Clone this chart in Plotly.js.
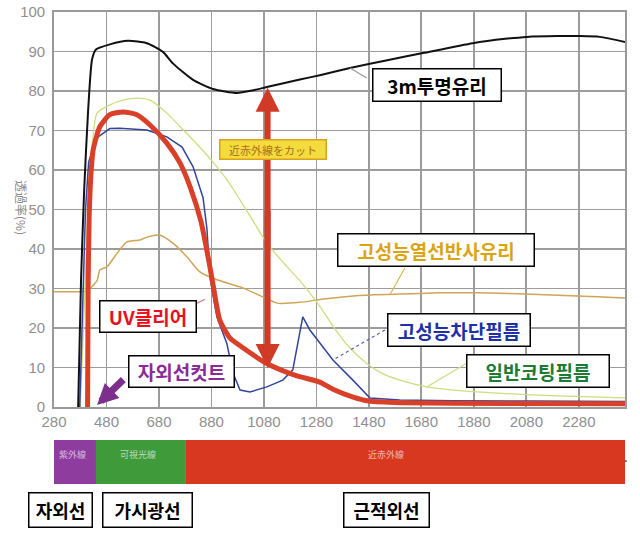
<!DOCTYPE html>
<html>
<head>
<meta charset="utf-8">
<script src="https://cdn.plot.ly/plotly-3.0.1.min.js"></script>
<style>
  body { margin: 0; background: #fff; }
  #plot { width: 640px; height: 533px; }
</style>
</head>
<body>
<div id="plot"></div>
<script>
// wavelength (nm) vs transmittance (%)
var clearX = [372, 383, 395, 410, 425, 440, 493, 562, 634, 695, 733, 810, 886, 977, 1040, 1091, 1217, 1293, 1408, 1550, 1686, 1876, 2000, 2082, 2200, 2280, 2360, 2456];
var clearY = [0, 32, 55, 75, 88, 90.5, 91.8, 92.7, 92.1, 89.9, 87, 82.8, 80.5, 79.5, 80.2, 81, 82.9, 84, 85.8, 87.8, 89.6, 92.1, 93.2, 93.7, 93.9, 93.9, 93.7, 92.4];

var uvX = [408, 410, 414, 420, 429, 455, 493, 543, 596, 646, 710, 760, 800, 840, 870, 886, 912, 950, 1000, 1091, 1200, 1293, 1343, 1420, 1480, 1600, 2000, 2456];
var uvY = [0, 30, 48, 58, 65, 71, 74, 74.7, 74, 71.4, 66.8, 61.8, 55.5, 47, 37, 31, 22, 17.5, 15, 11, 8, 6.3, 4.5, 2.5, 1.5, 1.1, 0.9, 0.8];

var filmX = [378, 390, 400, 412, 440, 493, 531, 634, 710, 768, 810, 848, 863, 874, 901, 939, 962, 989, 1027, 1091, 1152, 1190, 1228, 1255, 1293, 1343, 1419, 1484, 1598, 1800, 2100, 2456];
var filmY = [0, 30, 50, 62, 68, 70.5, 70.6, 70.1, 68.4, 65.8, 60.8, 53, 45, 33, 22.8, 16, 8.6, 4.3, 3.8, 5.1, 6.8, 9.4, 22.8, 19.5, 16.2, 11.9, 6.8, 2.3, 1.8, 1.6, 1.5, 1.4];

var coatX = [380, 395, 410, 425, 444, 493, 550, 596, 646, 710, 760, 810, 860, 901, 950, 989, 1040, 1091, 1179, 1217, 1293, 1343, 1400, 1472, 1530, 1598, 1701, 1850, 2000, 2200, 2456];
var coatY = [0, 25, 50, 66, 74.4, 76.5, 77.8, 78.2, 77.7, 74.4, 71, 67.6, 64, 60.8, 56.5, 52.4, 47, 41.5, 34.7, 32, 25.5, 20.5, 15.5, 11, 8.5, 6.8, 5.1, 4, 3.4, 2.8, 2.3];

var reflX = [280, 380, 406, 444, 455, 482, 520, 558, 608, 634, 684, 733, 787, 836, 901, 989, 1076, 1130, 1217, 1293, 1400, 1500, 1600, 1750, 1900, 2050, 2200, 2350, 2456];
var reflY = [29.2, 29.2, 29.4, 32, 34.7, 35.5, 38.9, 41.8, 42.3, 43, 43.5, 41.5, 38, 34.2, 32.2, 30.4, 27.9, 26.3, 26.5, 27.2, 28, 28.4, 28.6, 28.9, 28.9, 28.7, 28.3, 27.9, 27.6];

var xTicks = [280, 480, 680, 880, 1080, 1280, 1480, 1680, 1880, 2080, 2280];

// spectrum band under the chart
var bandStart = [280, 440, 780];
var bandEnd = [440, 780, 2456];
var bandText = ["紫外線", "可視光線", "近赤外線"];
var bandTextX = [352, 600, 1545];
var bandColor = ["#8e3d9e", "#3f9a3a", "#d8381f"];

var regionLabels = ["자외선", "가시광선", "근적외선"];
var regionX = [305, 636, 1547];
var regionW = [65, 91, 87];

var kfont = "Noto Sans CJK KR, sans-serif";

function line(x, y, color, width, shape) {
  return {
    x: x, y: y, type: "scatter", mode: "lines",
    line: { color: color, width: width, shape: shape || "spline", smoothing: 0.6 },
    hoverinfo: "skip", showlegend: false
  };
}

var data = [
  line(reflX, reflY, "#cfa556", 1.5),
  line(coatX, coatY, "#cfdc80", 1.3),
  line(filmX, filmY, "#34449c", 1.5, "linear"),
  line(clearX, clearY, "#111111", 2),
  line(uvX, uvY, "#d9402a", 5)
];

// boxed labels
function box(text, x, y, w, h, color, xref, yref, size) {
  return {
    text: "<b>" + text + "</b>", x: x, y: y, xref: xref || "x", yref: yref || "y",
    showarrow: false, width: w - 3, height: h - 3, borderpad: 0,
    bgcolor: "#ffffff", bordercolor: "#000000", borderwidth: 1.5,
    font: { family: kfont, size: size || 19, color: color },
    xanchor: "center", yanchor: "middle"
  };
}

function arrow(x, y, ax, ay, color, width, size) {
  return {
    x: x, y: y, ax: ax, ay: ay, xref: "x", yref: "y", axref: "x", ayref: "y",
    text: "", showarrow: true, arrowhead: 2, arrowsize: size, arrowwidth: width,
    arrowcolor: color, standoff: 0, startstandoff: 0
  };
}

var annotations = [
  arrow(1094, 80.8, 1094, 40, "#cf3b27", 6, 0.8),
  arrow(1094, 9.9, 1094, 50, "#cf3b27", 6, 0.8),
  arrow(444, 0.5, 550, 7.3, "#7d2f8e", 7, 0.6),
  {
    text: "近赤外線をカット", x: 1114, y: 65.1, xref: "x", yref: "y", showarrow: false,
    width: 105, height: 18, borderpad: 0, bgcolor: "#f3dc3c", bordercolor: "#d9a21c", borderwidth: 1.5,
    font: { family: "Noto Sans CJK JP, sans-serif", size: 11, color: "#a86e22" }
  },
  box("3m투명유리", 1740, 81.5, 130, 34, "#000000"),
  box("고성능열선반사유리", 1736, 39.7, 198, 34, "#d9a514"),
  box("UV클리어", 638, 22.8, 98, 33, "#e8101e"),
  box("자외선컷트", 766, 9.0, 107, 33, "#8a2c98"),
  box("고성능차단필름", 1823, 19.5, 144, 34, "#2030a8"),
  box("일반코팅필름", 2124, 9.1, 144, 34, "#1d7b33"),
  {
    text: "透過率(%)", x: -0.074, y: 0.506, xref: "paper", yref: "paper", showarrow: false,
    textangle: 90, font: { family: "Noto Sans CJK JP, sans-serif", size: 12, color: "#8a8a8a" }
  },
  {
    text: ".", x: 1.009, y: -0.154, xref: "paper", yref: "paper", showarrow: false,
    font: { size: 14, color: "#333" }
  }
];

for (var i = 0; i < bandText.length; i++) {
  annotations.push({
    text: bandText[i], x: bandTextX[i], y: -0.142, xref: "x", yref: "paper", showarrow: false,
    font: { family: "Noto Sans CJK JP, sans-serif", size: 9, color: "rgba(255,255,255,0.65)" }
  });
  annotations.push(box(regionLabels[i], regionX[i], -0.261, regionW[i], 36, "#000000", "x", "paper", 18));
}

var shapes = [];
for (var j = 0; j < bandStart.length; j++) {
  shapes.push({
    type: "rect", xref: "x", yref: "paper", x0: bandStart[j], x1: bandEnd[j],
    y0: -0.195, y1: -0.0835, fillcolor: bandColor[j], line: { width: 0 }
  });
}

// leader lines from the labels to their curves
function leader(x0, y0, x1, y1, color, dash) {
  return {
    type: "line", xref: "x", yref: "y", x0: x0, y0: y0, x1: x1, y1: y1,
    line: { color: color, width: 1.2, dash: dash || "solid" }
  };
}
shapes.push(leader(1408, 85.8, 1472, 83.3, "#999999"));
shapes.push(leader(1617, 35.2, 1560, 28.4, "#d9b650"));
shapes.push(leader(825, 26.3, 867, 27.6, "#d87a9a", "dash"));
shapes.push(leader(1541, 19.5, 1343, 11.9, "#5060a0", "dot"));
shapes.push(leader(1853, 11.1, 1701, 5.1, "#d0dc8a"));

var axisFont = { family: "Liberation Sans, Arial, sans-serif", size: 15, color: "#8f8f8f" };

var layout = {
  width: 640, height: 533,
  margin: { l: 54, r: 15, t: 12, b: 126 },
  paper_bgcolor: "#ffffff", plot_bgcolor: "#ffffff",
  showlegend: false,
  xaxis: {
    range: [280, 2456], tickvals: xTicks, ticktext: xTicks.map(String),
    showgrid: true, gridcolor: "#9c9c9c", gridwidth: 1.8, zeroline: false,
    showline: true, linecolor: "#999999", linewidth: 1.8, mirror: true,
    ticks: "", tickfont: axisFont, fixedrange: true
  },
  yaxis: {
    range: [0, 100], dtick: 10,
    showgrid: true, gridcolor: "#9c9c9c", gridwidth: 1.8, zeroline: false,
    showline: true, linecolor: "#999999", linewidth: 1.8, mirror: true,
    ticks: "", tickfont: axisFont, ticklabelstandoff: 4, fixedrange: true
  },
  annotations: annotations,
  shapes: shapes
};

Plotly.newPlot("plot", data, layout, { displayModeBar: false, staticPlot: true });
</script>
</body>
</html>
